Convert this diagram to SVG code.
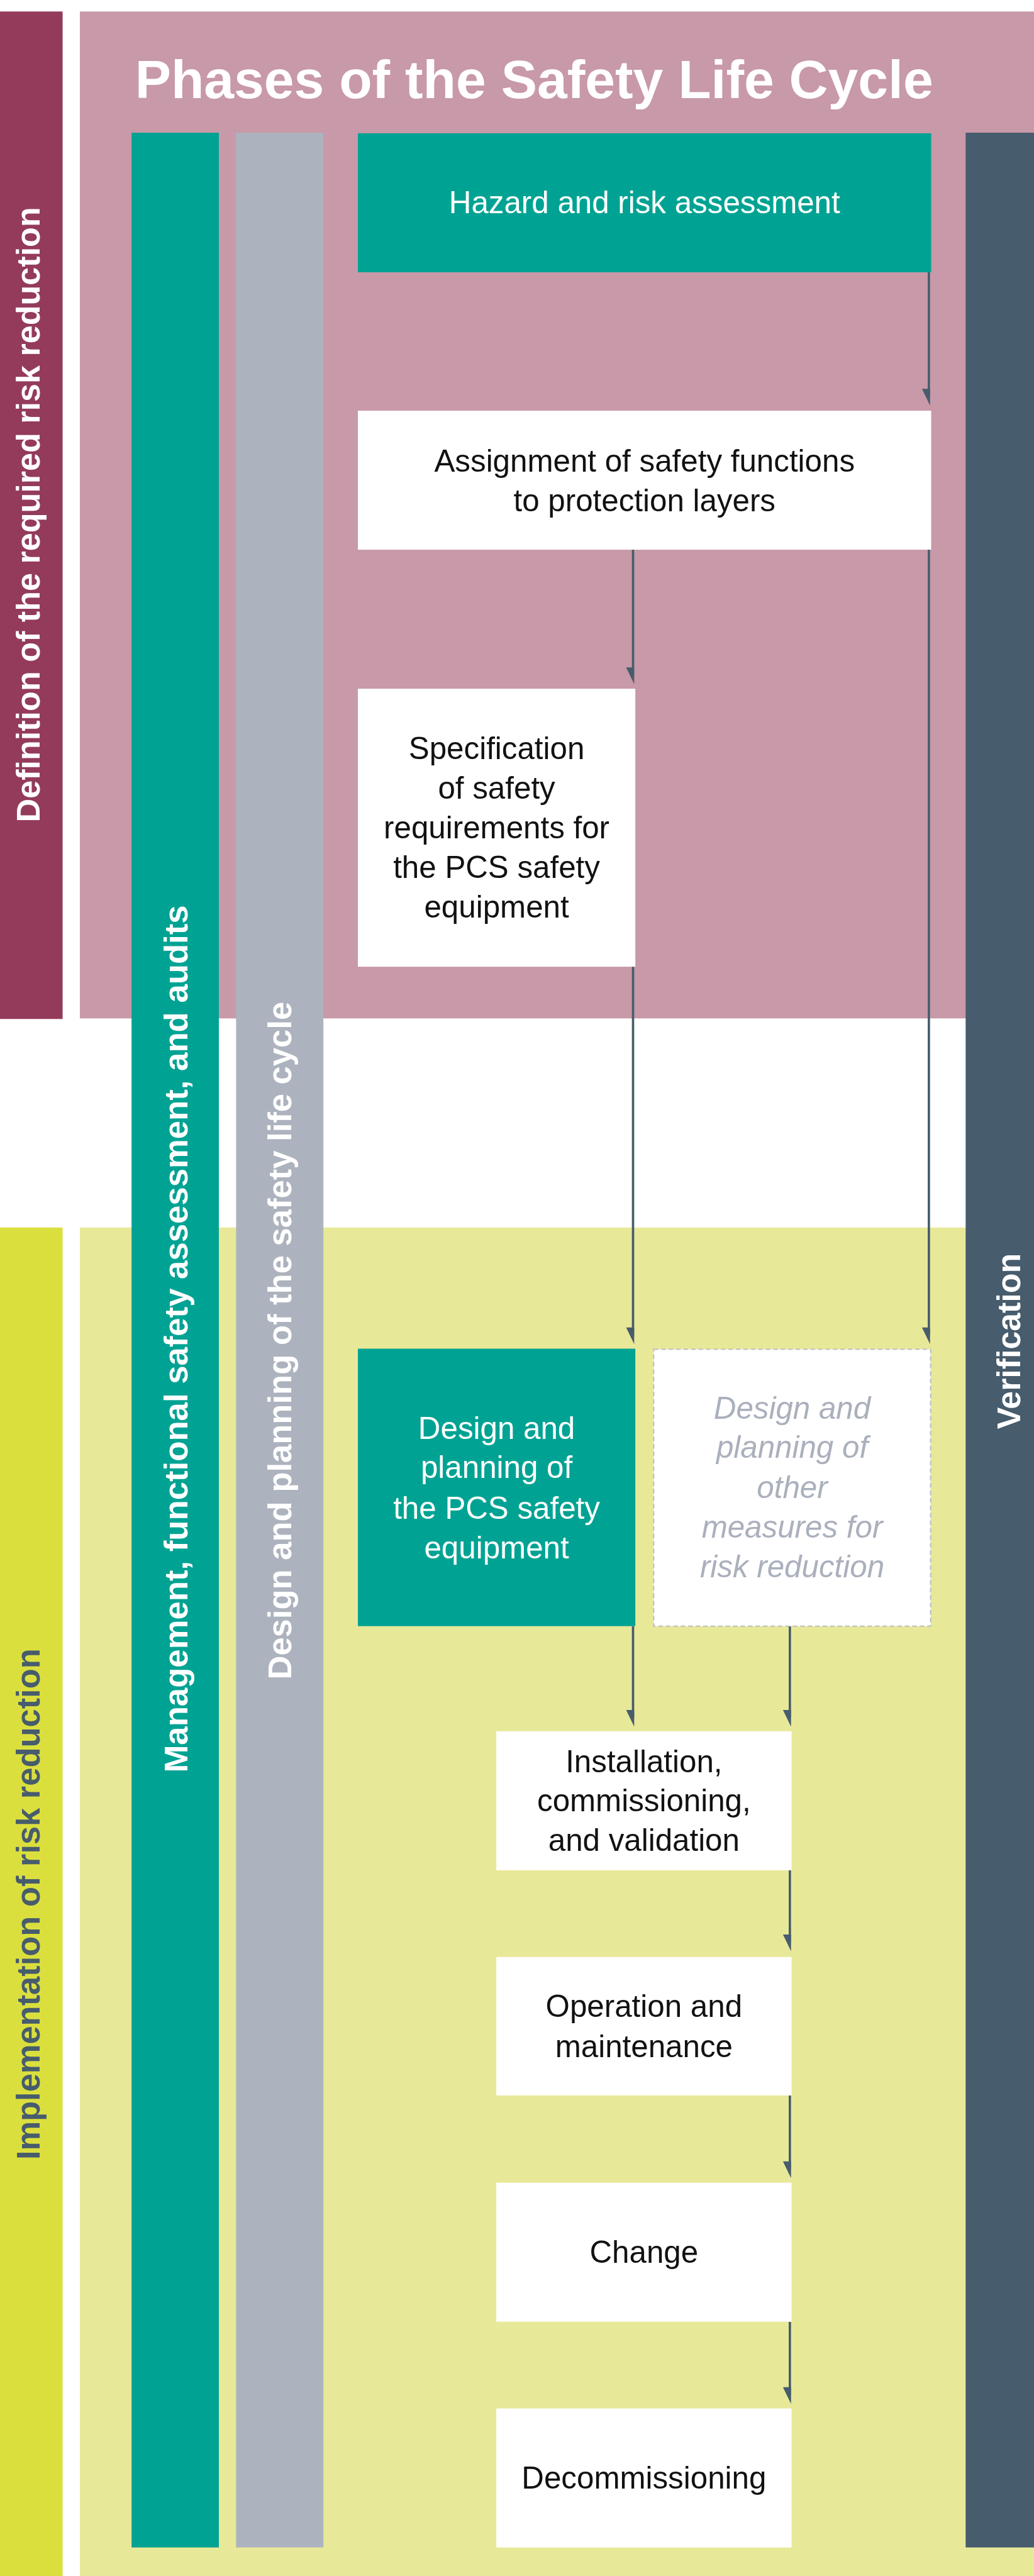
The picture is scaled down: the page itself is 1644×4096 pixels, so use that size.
<svg xmlns="http://www.w3.org/2000/svg" xmlns:xlink="http://www.w3.org/1999/xlink" width="1644" height="4096" viewBox="0 0 1644 4096">
  <style>
    .lbl { font-family: "Liberation Sans", Arial, Helvetica, sans-serif; font-size: 54px; text-anchor: middle; fill: #111111; }
    .lbl.inv { fill: #ffffff; }
    .lbl.ghost { fill: #aab0bc; font-style: italic; }
    .side { font-family: "Liberation Sans", Arial, Helvetica, sans-serif; font-weight: bold; font-size: 57px; text-anchor: middle; fill: #ffffff; }
    .box-white { fill: #ffffff; }
    .box-teal { fill: #00a393; }
    .box-dashed { fill: #ffffff; stroke: #b4b9c4; stroke-width: 2; stroke-dasharray: 8 5; }
    .wire { stroke: #475c6c; stroke-width: 4; fill: none; }
    .head { fill: #475c6c; }
  </style>
  <defs>
    <!-- one-sided arrowhead, tip at (0,0), vertical edge on the right of the wire -->
    <path id="ah" d="M-12,-29 L2,-29 L2,0 Z"/>
  </defs>

  <rect x="0" y="0" width="1644" height="4096" fill="#ffffff"/>

  <g transform="scale(0.913333)">
    <!-- phase bands -->
    <g id="band-definition">
      <rect x="0" y="20" width="109" height="1754" fill="#943b5c"/>
      <rect x="139" y="20" width="1661" height="1753" fill="#c899a8"/>
      <text class="side" transform="translate(69,896) rotate(-90)" textLength="1071" lengthAdjust="spacingAndGlyphs">Definition of the required risk reduction</text>
    </g>
    <g id="band-implementation">
      <rect x="0" y="2137" width="109" height="2348" fill="#dbdf3e"/>
      <rect x="139" y="2137" width="1661" height="2348" fill="#e8e899"/>
      <text class="side" style="fill:#475c6c" transform="translate(69,3315) rotate(-90)" textLength="890" lengthAdjust="spacingAndGlyphs">Implementation of risk reduction</text>
    </g>

    <text id="title" x="235" y="171" font-family="'Liberation Sans', Arial, Helvetica, sans-serif" font-weight="bold" font-size="94" fill="#ffffff">Phases of the Safety Life Cycle</text>

    <!-- full-height accompanying activities -->
    <g id="bar-management">
      <rect x="229" y="231" width="152" height="4204" fill="#00a393"/>
      <text class="side" transform="translate(326,2331) rotate(-90)" textLength="1510" lengthAdjust="spacingAndGlyphs">Management, functional safety assessment, and audits</text>
    </g>
    <g id="bar-planning">
      <rect x="411" y="231" width="152" height="4204" fill="#adb3be"/>
      <text class="side" transform="translate(507,2334) rotate(-90)" textLength="1180" lengthAdjust="spacingAndGlyphs">Design and planning of the safety life cycle</text>
    </g>
    <g id="bar-verification">
      <rect x="1681" y="231" width="119" height="4204" fill="#475c6c"/>
      <text class="side" transform="translate(1776,2335) rotate(-90)" textLength="306" lengthAdjust="spacingAndGlyphs">Verification</text>
    </g>

    <!-- connectors -->
    <g id="connectors">
      <line class="wire" x1="1617" y1="474" x2="1617" y2="690"/>
      <use xlink:href="#ah" class="head" x="1617" y="706"/>

      <line class="wire" x1="1102" y1="957" x2="1102" y2="1175"/>
      <use xlink:href="#ah" class="head" x="1102" y="1191"/>

      <line class="wire" x1="1617" y1="957" x2="1617" y2="2324"/>
      <use xlink:href="#ah" class="head" x="1617" y="2340"/>

      <line class="wire" x1="1102" y1="1683" x2="1102" y2="2324"/>
      <use xlink:href="#ah" class="head" x="1102" y="2340"/>

      <line class="wire" x1="1102" y1="2831" x2="1102" y2="2990"/>
      <use xlink:href="#ah" class="head" x="1102" y="3006"/>

      <line class="wire" x1="1375" y1="2831" x2="1375" y2="2990"/>
      <use xlink:href="#ah" class="head" x="1375" y="3006"/>

      <line class="wire" x1="1375" y1="3256" x2="1375" y2="3381"/>
      <use xlink:href="#ah" class="head" x="1375" y="3397"/>

      <line class="wire" x1="1375" y1="3648" x2="1375" y2="3776"/>
      <use xlink:href="#ah" class="head" x="1375" y="3792"/>

      <line class="wire" x1="1375" y1="4042" x2="1375" y2="4169"/>
      <use xlink:href="#ah" class="head" x="1375" y="4185"/>
    </g>

    <!-- life cycle phases -->
    <g id="node-hazard">
      <rect class="box-teal" x="623" y="232" width="998" height="242"/>
      <text class="lbl inv" x="1122" y="371">Hazard and risk assessment</text>
    </g>
    <g id="node-assignment">
      <rect class="box-white" x="623" y="715" width="998" height="242"/>
      <text class="lbl" x="1122" y="821">Assignment of safety functions</text>
      <text class="lbl" x="1122" y="890">to protection layers</text>
    </g>
    <g id="node-specification">
      <rect class="box-white" x="623" y="1199" width="483" height="484"/>
      <text class="lbl" x="864.5" y="1321">Specification</text>
      <text class="lbl" x="864.5" y="1390">of safety</text>
      <text class="lbl" x="864.5" y="1459">requirements for</text>
      <text class="lbl" x="864.5" y="1529">the PCS safety</text>
      <text class="lbl" x="864.5" y="1597">equipment</text>
    </g>
    <g id="node-design-pcs">
      <rect class="box-teal" x="623" y="2348" width="483" height="483"/>
      <text class="lbl inv" x="864.5" y="2505">Design and</text>
      <text class="lbl inv" x="864.5" y="2573">planning of</text>
      <text class="lbl inv" x="864.5" y="2644">the PCS safety</text>
      <text class="lbl inv" x="864.5" y="2713">equipment</text>
    </g>
    <g id="node-design-other">
      <rect class="box-dashed" x="1138" y="2349" width="482" height="482"/>
      <text class="lbl ghost" x="1379" y="2470">Design and</text>
      <text class="lbl ghost" x="1379" y="2538">planning of</text>
      <text class="lbl ghost" x="1379" y="2608">other</text>
      <text class="lbl ghost" x="1379" y="2677">measures for</text>
      <text class="lbl ghost" x="1379" y="2746">risk reduction</text>
    </g>
    <g id="node-installation">
      <rect class="box-white" x="864" y="3014" width="514" height="242"/>
      <text class="lbl" x="1121" y="3085">Installation,</text>
      <text class="lbl" x="1121" y="3153">commissioning,</text>
      <text class="lbl" x="1121" y="3222">and validation</text>
    </g>
    <g id="node-operation">
      <rect class="box-white" x="864" y="3407" width="514" height="241"/>
      <text class="lbl" x="1121" y="3511">Operation and</text>
      <text class="lbl" x="1121" y="3581">maintenance</text>
    </g>
    <g id="node-change">
      <rect class="box-white" x="864" y="3800" width="514" height="242"/>
      <text class="lbl" x="1121" y="3939">Change</text>
    </g>
    <g id="node-decommissioning">
      <rect class="box-white" x="864" y="4193" width="514" height="242"/>
      <text class="lbl" x="1121" y="4332">Decommissioning</text>
    </g>
  </g>
</svg>
